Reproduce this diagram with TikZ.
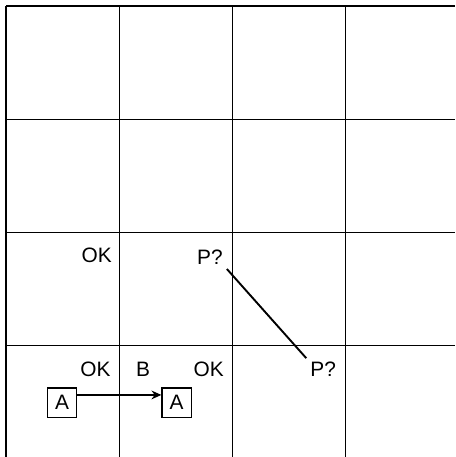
\documentclass[tikz,border=0pt]{standalone}
\usepackage{fontspec}
\setmainfont{Liberation Sans}
\usepackage{tikz}
\usetikzlibrary{arrows.meta,positioning,calc}

\begin{document}
\begin{tikzpicture}[
    x=2.1cm,y=2.1cm,
    >={Stealth[length=5.2pt,width=4.6pt]},
    gridline/.style={draw=black,line width=0.65pt},
    move/.style={->,draw=black,line width=1pt},
    link/.style={draw=black,line width=1pt},
    agent/.style={draw=black,line width=0.6pt,minimum width=0.54cm,
      minimum height=0.54cm,inner sep=0pt,font=\fontsize{11}{13}\selectfont},
    percept/.style={font=\fontsize{11}{13}\selectfont,inner sep=2pt}
  ]
    \useasboundingbox (-0.053,0.053) rectangle (3.972,-3.981);

    % The grid, open on the right and at the bottom.
    \foreach \i in {0,...,3} {
      \draw[gridline] (\i,0) -- (\i,-3.981);
      \draw[gridline] (0,-\i) -- (3.963,-\i);
    }

    % Third row.
    \node[percept] (ok1) at (0.80,-2.20) {OK};
    \node[percept] (pit1) at (1.80,-2.22) {P?};

    % Fourth row.
    \node[percept] (ok2) at (0.79,-3.21) {OK};
    \node[percept] (breeze) at (1.21,-3.21) {B};
    \node[percept] (ok3) at (1.79,-3.21) {OK};
    \node[percept] (pit2) at (2.80,-3.21) {P?};
    \node[agent] (start) at (0.495,-3.50) {A};
    \node[agent] (next) at (1.505,-3.50) {A};

    \draw[move] ($(start.north east)!0.25!(start.south east)$) --
      ($(next.north west)!0.25!(next.south west)$);
    \draw[link] (pit1.south east) -- (pit2.north west);
  \end{tikzpicture}
\end{document}
